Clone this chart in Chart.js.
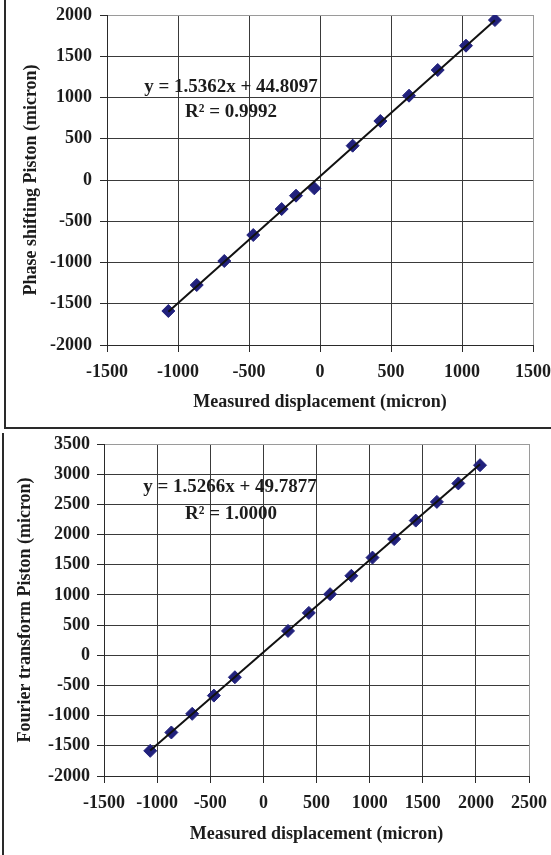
<!DOCTYPE html>
<html><head><meta charset="utf-8">
<script src="https://cdn.jsdelivr.net/npm/chart.js@4.4.0/dist/chart.umd.min.js"></script>
<style>
html,body{margin:0;padding:0;background:#fff;}
body{width:551px;height:855px;position:relative;overflow:hidden;}
canvas{position:absolute;left:0;}
#c1{top:0;} #c2{top:428px;}
.frame{position:absolute;border-color:#2a2a2a;border-style:solid;border-width:0;}
</style></head><body>
<canvas id="c1" width="551" height="427"></canvas>
<canvas id="c2" width="551" height="427"></canvas>
<div class="frame" style="left:4px;top:-5px;width:560px;height:432px;border-left-width:2px;border-bottom-width:2px;"></div>
<div class="frame" style="left:2px;top:433px;width:0;height:430px;border-left-width:2px;"></div>
<script>
// ---------- Top chart data (Phase shifting) ----------
const topX = [-1068, -868, -674, -470, -270, -169, -40, 230, 425, 627, 829, 1028, 1232];
const topY = [-1588, -1273, -982, -667, -352, -190, -101, 416, 715, 1022, 1333, 1628, 1939];
const topTrendX = [-1068, 1232];
const topTrendY = [-1596, 1937];
const topXTicks = [-1500, -1000, -500, 0, 500, 1000, 1500];
const topYTicks = [-2000, -1500, -1000, -500, 0, 500, 1000, 1500, 2000];
const topEquation = 'y = 1.5362x + 44.8097';
const topR2 = 'R\u00B2 = 0.9992';
const topYTitle = 'Phase shifting Piston (micron)';
const topXTitle = 'Measured displacement (micron)';

// ---------- Bottom chart data (Fourier transform) ----------
const botX = [-1065, -866, -670, -466, -268, 232, 428, 628, 828, 1027, 1231, 1434, 1633, 1835, 2039];
const botY = [-1583, -1279, -970, -668, -364, 403, 702, 1012, 1317, 1618, 1925, 2231, 2541, 2847, 3149];
const botTrendX = [-1065, 2039];
const botTrendY = [-1576, 3163];
const botXTicks = [-1500, -1000, -500, 0, 500, 1000, 1500, 2000, 2500];
const botYTicks = [-2000, -1500, -1000, -500, 0, 500, 1000, 1500, 2000, 2500, 3000, 3500];
const botEquation = 'y = 1.5266x + 49.7877';
const botR2 = 'R\u00B2 = 1.0000';
const botYTitle = 'Fourier transform Piston (micron)';
const botXTitle = 'Measured displacement (micron)';

const FONT = 'Liberation Serif, Times New Roman, serif';
const TXT = '#1c1c1c';
const MARK = '#21217c';

function makeChart(id, cfg) {
  const pts = cfg.x.map((v, i) => ({x: v, y: cfg.y[i]}));
  const trend = cfg.tx.map((v, i) => ({x: v, y: cfg.ty[i]}));
  const xt = cfg.xticks, yt = cfg.yticks;
  const gridColor = (max) => (c) => (c.tick && c.tick.value === max) ? '#9a9a9a' : '#3a3a3a';
  const textPlugin = {
    id: 'eqText',
    afterDatasetsDraw(chart) {
      const ctx = chart.ctx;
      ctx.save();
      ctx.fillStyle = TXT;
      ctx.font = 'bold 19px ' + FONT;
      ctx.textAlign = 'center';
      ctx.textBaseline = 'middle';
      ctx.fillText(cfg.eq, cfg.eqPos[0], cfg.eqPos[1]);
      ctx.fillText(cfg.r2, cfg.r2Pos[0], cfg.r2Pos[1]);
      ctx.restore();
    }
  };
  const plain = v => String(v);
  return new Chart(document.getElementById(id), {
    type: 'scatter',
    data: {
      datasets: [
        {data: trend, showLine: true, borderColor: '#111', borderWidth: 2, pointRadius: 0, fill: false},
        {data: pts, showLine: false, pointStyle: 'rectRot', pointRadius: 6.5, backgroundColor: MARK, borderColor: MARK, borderWidth: 1}
      ]
    },
    options: {
      responsive: false, animation: false, devicePixelRatio: 1,
      layout: {padding: {left: 0, top: cfg.padTop, right: cfg.padRight, bottom: 0}},
      plugins: {legend: {display: false}, tooltip: {enabled: false}},
      scales: {
        x: {
          type: 'linear', min: xt[0], max: xt[xt.length - 1],
          afterBuildTicks: s => { s.ticks = xt.map(v => ({value: v})); },
          afterFit: s => { s.height = cfg.xH; s.paddingLeft = 0; s.paddingRight = 0; s.paddingTop = 0; s.paddingBottom = 0; },
          grid: {color: gridColor(xt[xt.length - 1]), lineWidth: 1, tickLength: 7, tickColor: '#2a2a2a'},
          border: {color: '#2a2a2a', width: 1},
          ticks: {callback: plain, color: TXT, font: {family: FONT, size: 18, weight: 'bold'}, padding: 10, maxRotation: 0, autoSkip: false},
          title: {display: true, text: cfg.xTitle, color: TXT, font: {family: FONT, size: 18, weight: 'bold'}, padding: {top: 0, bottom: cfg.xTitlePad}}
        },
        y: {
          type: 'linear', min: yt[0], max: yt[yt.length - 1],
          afterBuildTicks: s => { s.ticks = yt.map(v => ({value: v})); },
          afterFit: s => { s.width = cfg.yW; s.paddingLeft = 0; s.paddingRight = 0; s.paddingTop = 0; s.paddingBottom = 0; },
          grid: {color: gridColor(yt[yt.length - 1]), lineWidth: 1, tickLength: 7, tickColor: '#2a2a2a'},
          border: {color: '#2a2a2a', width: 1},
          ticks: {callback: plain, color: TXT, font: {family: FONT, size: 18, weight: 'bold'}, padding: cfg.yTickPad, autoSkip: false},
          title: {display: true, text: cfg.yTitle, color: TXT, font: {family: FONT, size: 18, weight: 'bold'}, padding: {top: cfg.yTitlePad, bottom: 0}}
        }
      }
    },
    plugins: [textPlugin]
  });
}

makeChart('c1', {
  x: topX, y: topY, tx: topTrendX, ty: topTrendY, xticks: topXTicks, yticks: topYTicks,
  eq: topEquation, r2: topR2, eqPos: [231, 87], r2Pos: [231, 112],
  xTitle: topXTitle, yTitle: topYTitle,
  padTop: 15, padRight: 18, xH: 82, yW: 107, xTitlePad: 14, yTitlePad: 21, yTickPad: 8
});
makeChart('c2', {
  x: botX, y: botY, tx: botTrendX, ty: botTrendY, xticks: botXTicks, yticks: botYTicks,
  eq: botEquation, r2: botR2, eqPos: [230, 59], r2Pos: [231, 86],
  xTitle: botXTitle, yTitle: botYTitle,
  padTop: 16, padRight: 22, xH: 79, yW: 104, xTitlePad: 10, yTitlePad: 15, yTickPad: 7
});
</script>
</body></html>
